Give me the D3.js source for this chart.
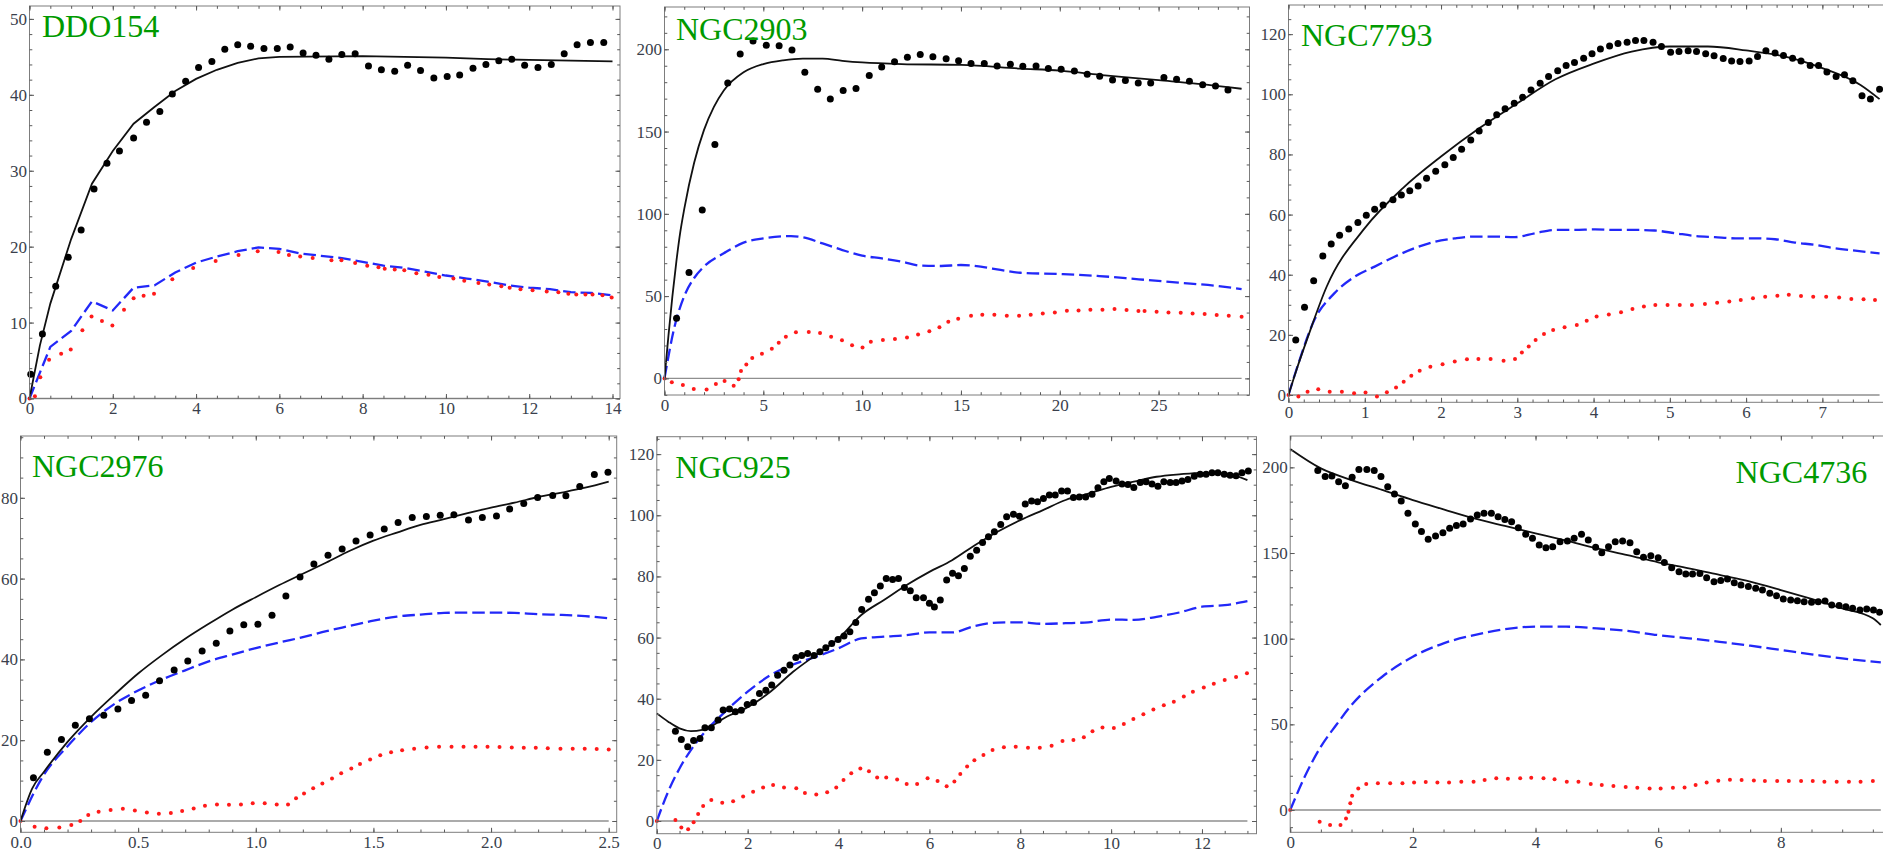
<!DOCTYPE html>
<html>
<head>
<meta charset="utf-8">
<script src="https://cdn.jsdelivr.net/npm/d3@7"></script>
<style>
    body { margin: 0; background: #fff; }
    svg { display: block; font-family: "Liberation Serif", "Times New Roman", serif; }
    .frame { fill: none; stroke: #7d7d7d; stroke-width: 1; }
    .tick line { stroke: #5a5a5a; stroke-width: 1; }
    .tick text { fill: #3a3f4c; font-size: 17px; font-family: "Liberation Serif", serif; }
    .zero { stroke: #8f8f8f; stroke-width: 1.4; }
    .title { fill: #009a00; font-size: 32px; }
</style>
</head>
<body>
<div class="canvas"></div>
<script>
////////// DATA : [radius, velocity] ///////////////////

const titles = ['DDO154', 'NGC2903', 'NGC7793', 'NGC2976', 'NGC925', 'NGC4736'];

const ddo154Obs = [[0.03,3.2],[0.31,8.5],[0.63,14.8],[0.93,18.6],[1.24,22.2],[1.55,27.6],[1.86,31.0],[2.16,32.6],[2.5,34.3],[2.81,36.4],[3.13,37.8],[3.43,40.1],[3.75,41.8],[4.06,43.6],[4.38,44.4],[4.69,46.0],[5.0,46.6],[5.31,46.4],[5.63,46.1],[5.95,46.1],[6.26,46.3],[6.57,45.5],[6.88,45.2],[7.19,44.7],[7.5,45.3],[7.82,45.4],[8.14,43.8],[8.45,43.3],[8.77,43.1],[9.08,43.9],[9.39,43.2],[9.71,42.2],[10.03,42.4],[10.33,42.6],[10.65,43.5],[10.96,44.0],[11.27,44.5],[11.58,44.7],[11.89,43.9],[12.21,43.6],[12.53,44.0],[12.84,45.4],[13.15,46.6],[13.47,46.9],[13.79,46.9]];
const ddo154Fit = [[0,0],[0.25,7],[0.5,12.5],[1,21],[1.5,28.3],[2,32.6],[2.5,36.2],[3,38.4],[3.5,40.5],[4,42.1],[4.5,43.3],[5,44.2],[5.5,44.8],[6,45.0],[8,45.1],[9,45.0],[10,44.9],[11,44.7],[12,44.6],[13,44.5],[14,44.4]];
const ddo154Disk = [[0,0],[0.5,6.8],[1,8.9],[1.5,12.8],[2,11.6],[2.5,14.6],[3,14.9],[3.5,16.6],[4,17.9],[4.5,18.7],[5,19.4],[5.5,19.9],[6,19.7],[6.5,19.1],[7,18.8],[7.5,18.5],[8,18.0],[8.5,17.5],[9,17.2],[9.5,16.7],[10,16.2],[10.5,15.8],[11,15.4],[11.5,14.9],[12,14.6],[12.5,14.4],[13,14.0],[13.5,13.9],[14,13.6]];
const ddo154Gas = [[0,0],[0.13,0.3],[0.26,2.8],[0.47,5.1],[0.76,5.9],[0.99,6.45],[1.27,9.0],[1.49,10.8],[1.74,10.2],[1.99,9.6],[2.27,11.7],[2.5,13.2],[2.74,13.55],[2.99,13.8],[3.43,15.7],[3.93,17.2],[4.47,18.1],[5.02,18.9],[5.48,19.4],[5.98,19.3],[6.23,18.9],[6.5,18.7],[6.8,18.5],[7.25,18.2],[7.49,18.2],[7.82,17.85],[8.11,17.5],[8.38,17.3],[8.53,17.1],[8.77,17.0],[9.0,16.9],[9.29,16.5],[9.58,16.3],[9.84,16.0],[10.18,15.8],[10.44,15.5],[10.78,15.2],[11.04,15.0],[11.33,14.8],[11.53,14.6],[11.79,14.4],[12.08,14.25],[12.42,14.1],[12.7,14.0],[12.94,13.8],[13.13,13.7],[13.35,13.7],[13.52,13.7],[13.76,13.6],[13.98,13.3]];

const ngc2903Obs = [[0.61,36.5],[1.24,64.4],[1.91,102.3],[2.55,142.2],[3.2,179.5],[3.83,197.2],[4.48,205.1],[5.15,202.4],[5.8,202.2],[6.45,199.6],[7.1,186.0],[7.75,175.7],[8.39,169.8],[9.04,174.9],[9.69,176.1],[10.36,184.0],[10.99,189.3],[11.64,192.5],[12.29,195.1],[12.94,196.8],[13.58,195.5],[14.25,194.3],[14.88,193.1],[15.51,191.3],[16.18,191.3],[16.83,189.9],[17.5,190.9],[18.13,189.7],[18.8,189.9],[19.42,188.4],[20.07,187.8],[20.74,186.8],[21.39,184.8],[22.02,183.6],[22.67,181.4],[23.32,181.0],[23.97,179.5],[24.6,179.5],[25.27,182.8],[25.91,181.8],[26.56,180.5],[27.23,178.5],[27.88,177.7],[28.51,175.3]];
const ngc2903Fit = [[0,0],[0.2,26],[0.4,50],[0.6,71],[0.8,89],[1,103],[1.5,131],[2,151],[2.5,165],[3,175],[4,186],[5,191],[6,193.3],[7,194.3],[8,194.3],[9,193],[10,192],[12,191],[15,190.5],[18,188.3],[20,187],[22,184.5],[25,181.2],[27,179],[29.2,176]];
const ngc2903Disk = [[0,0],[0.5,31],[1,50],[1.5,61],[2,68],[3,76],[4,82.5],[5,85.1],[6.4,86.5],[7,85.7],[8,82],[9,78],[10,74.6],[11,72.9],[12,70.9],[13,68.5],[14,68.3],[15,68.9],[16,67.9],[17,65.9],[18,64.2],[20,63.4],[22,62.2],[24,60.2],[26,58.2],[28,56.1],[29.2,54.3]];
const ngc2903Gas = [[0,0],[0.37,-2.4],[0.93,-4],[1.48,-6.5],[2.13,-6.7],[2.6,-3.4],[3.04,-1.6],[3.5,-4.5],[3.75,-0.6],[3.87,4.5],[4.14,8.5],[4.44,12.4],[4.93,15],[5.43,18],[5.78,21.7],[6.14,25.3],[6.65,28],[7.3,28.2],[7.87,27.6],[8.43,25.3],[8.98,23.1],[9.49,20.1],[10.02,18.8],[10.44,22.3],[11.05,23.3],[11.66,23.9],[12.27,24.9],[12.83,26.7],[13.4,28.6],[13.91,31],[14.36,34.4],[14.86,36.3],[15.51,38.1],[16.08,38.7],[16.69,38.7],[17.32,38.1],[17.94,38.1],[18.53,38.7],[19.14,39.5],[19.75,40.1],[20.36,41.1],[20.95,41.3],[21.55,41.7],[22.16,41.7],[22.77,42.1],[23.38,41.5],[23.98,40.9],[24.29,40.9],[24.9,40.5],[25.5,40.1],[26.12,39.9],[26.72,39.5],[27.33,39.1],[27.94,38.5],[28.55,38.1],[29.2,37.5]];

const ngc7793Obs = [[0.095,18.3],[0.21,29.2],[0.33,38.0],[0.45,46.2],[0.56,50.2],[0.67,53.1],[0.79,55.2],[0.91,57.4],[1.02,59.8],[1.13,61.8],[1.24,63.2],[1.37,64.9],[1.48,66.5],[1.59,67.9],[1.7,69.5],[1.81,72.1],[1.93,74.4],[2.05,76.6],[2.16,79.0],[2.27,81.7],[2.39,84.8],[2.5,87.8],[2.62,90.6],[2.73,93.2],[2.84,95.2],[2.96,97.0],[3.07,99.0],[3.18,101.4],[3.3,103.7],[3.41,105.9],[3.53,107.8],[3.64,109.6],[3.75,110.6],[3.87,112.0],[3.98,113.5],[4.09,115.1],[4.21,116.1],[4.32,116.9],[4.44,117.3],[4.55,117.9],[4.66,117.9],[4.78,117.3],[4.89,115.9],[5.01,114.0],[5.12,114.2],[5.24,114.5],[5.35,114.2],[5.47,113.5],[5.58,112.8],[5.7,111.9],[5.81,111.1],[5.92,110.9],[6.04,111.1],[6.15,112.6],[6.26,114.5],[6.38,113.7],[6.49,112.9],[6.61,112.0],[6.72,111.1],[6.84,109.6],[6.95,109.6],[7.06,107.4],[7.18,105.9],[7.29,106.5],[7.4,104.5],[7.52,99.5],[7.63,98.4],[7.75,101.7]];
const ngc7793Fit = [[0,0],[0.1,8],[0.25,19],[0.5,36],[1,55.5],[1.5,68.8],[2,79.3],[2.5,88.7],[3,97],[3.5,105],[4,110.2],[4.5,114.2],[5,115.9],[5.5,115.9],[6,114.6],[6.5,112.6],[7,108.7],[7.5,103.1],[7.75,98.4]];
const ngc7793Disk = [[0,0],[0.13,10.5],[0.34,25],[0.6,33.8],[0.87,39.4],[1.13,42.7],[1.39,46],[1.65,48.8],[1.92,51],[2.18,52.1],[2.44,52.7],[2.7,52.7],[2.97,52.5],[3.23,53.8],[3.49,54.9],[3.75,54.9],[4.02,55.1],[4.28,54.9],[4.54,54.9],[4.8,54.7],[5.07,53.8],[5.33,52.9],[5.59,52.5],[5.86,52.1],[6.12,52.1],[6.38,51.8],[6.64,50.7],[6.91,49.9],[7.17,48.8],[7.43,48.0],[7.75,47.1]];
const ngc7793Gas = [[0,0],[0.13,-0.5],[0.25,1.1],[0.39,1.9],[0.54,1.1],[0.7,1.1],[0.86,0.55],[1.01,0.8],[1.16,-0.5],[1.29,0.9],[1.41,2.5],[1.51,4.4],[1.61,6.4],[1.72,8.1],[1.86,9.4],[2.02,10.2],[2.18,11.1],[2.34,11.9],[2.49,12.0],[2.65,12.0],[2.82,11.4],[2.97,12.0],[3.06,14.1],[3.15,16.1],[3.24,18.3],[3.35,20.3],[3.47,21.6],[3.62,22.5],[3.78,23.3],[3.91,24.7],[4.04,26.1],[4.2,26.8],[4.36,27.5],[4.51,28.6],[4.66,29.4],[4.81,29.9],[4.97,29.9],[5.13,29.9],[5.29,29.9],[5.46,30.3],[5.62,30.7],[5.78,31.1],[5.93,31.6],[6.09,32.2],[6.25,32.7],[6.41,33.0],[6.56,33.3],[6.72,32.9],[6.88,32.7],[7.05,32.7],[7.22,32.4],[7.38,31.9],[7.54,31.8],[7.69,31.6]];

const ngc2976Obs = [[0.055,10.7],[0.114,17.0],[0.174,20.2],[0.233,23.7],[0.293,25.3],[0.354,26.2],[0.414,27.7],[0.472,29.8],[0.532,31.1],[0.591,34.7],[0.653,37.4],[0.711,39.6],[0.772,42.1],[0.832,44.0],[0.89,47.0],[0.949,48.6],[1.009,48.7],[1.069,50.9],[1.128,55.7],[1.188,60.4],[1.247,63.6],[1.307,65.8],[1.367,67.3],[1.426,69.3],[1.486,70.8],[1.546,72.3],[1.605,73.9],[1.665,75.1],[1.725,75.4],[1.784,75.7],[1.842,75.8],[1.904,74.5],[1.963,75.1],[2.023,75.5],[2.079,77.2],[2.139,78.6],[2.198,80.1],[2.262,80.6],[2.318,80.5],[2.377,82.8],[2.439,85.8],[2.497,86.3]];
const ngc2976Fit = [[0,0],[0.05,8.1],[0.1,12.2],[0.2,19.6],[0.3,25.8],[0.4,31.3],[0.5,36.5],[0.6,41],[0.7,45.1],[0.8,48.8],[0.9,52.3],[1.0,55.4],[1.1,58.4],[1.2,61.2],[1.3,64],[1.4,66.9],[1.5,69.4],[1.6,71.4],[1.7,73.3],[1.8,74.7],[1.9,76.2],[2.0,77.6],[2.1,78.8],[2.2,80.2],[2.3,81.3],[2.4,82.5],[2.5,84.0]];
const ngc2976Disk = [[0,0],[0.1,11.5],[0.2,18.5],[0.3,24.5],[0.4,29],[0.5,32.3],[0.6,35],[0.7,37.3],[0.8,39.5],[0.9,41.2],[1.0,42.8],[1.1,44.2],[1.2,45.5],[1.3,47],[1.4,48.3],[1.5,49.6],[1.6,50.6],[1.7,51.1],[1.8,51.5],[1.9,51.6],[2.0,51.6],[2.1,51.5],[2.2,51.2],[2.3,51.0],[2.4,50.7],[2.5,50.2]];
const ngc2976Gas = [[0,0],[0.06,-1.4],[0.11,-1.8],[0.165,-1.6],[0.216,-1.0],[0.254,0],[0.288,1.5],[0.332,2.3],[0.383,2.7],[0.435,3.0],[0.486,2.6],[0.537,2.1],[0.588,1.8],[0.639,2.0],[0.687,2.5],[0.736,3.1],[0.784,3.8],[0.835,4.1],[0.886,4.0],[0.937,4.1],[0.987,4.4],[1.038,4.4],[1.089,4.1],[1.137,4.1],[1.171,5.6],[1.205,6.8],[1.244,8.1],[1.283,9.3],[1.324,10.5],[1.363,11.8],[1.406,13.0],[1.443,14.1],[1.486,15.2],[1.529,16.3],[1.575,17.0],[1.622,17.5],[1.673,17.9],[1.726,18.2],[1.779,18.4],[1.832,18.4],[1.883,18.4],[1.934,18.4],[1.985,18.4],[2.036,18.3],[2.088,18.2],[2.139,18.1],[2.19,18.1],[2.241,18.0],[2.295,17.9],[2.347,17.9],[2.398,17.9],[2.449,17.8],[2.5,17.7]];

const ngc925Obs = [[0.41,29.4],[0.54,26.7],[0.68,24.3],[0.81,26.3],[0.95,27.0],[1.06,30.5],[1.2,30.5],[1.35,33.0],[1.46,36.3],[1.6,36.6],[1.73,35.7],[1.86,36.2],[1.99,38.1],[2.13,38.8],[2.26,41.7],[2.4,42.8],[2.53,44.5],[2.66,47.7],[2.8,49.3],[2.93,51.0],[3.06,53.5],[3.19,54.1],[3.32,54.8],[3.46,54.1],[3.59,55.4],[3.72,56.7],[3.85,58.1],[3.99,59.4],[4.12,60.5],[4.25,61.9],[4.38,64.9],[4.51,69.2],[4.66,72.5],[4.79,74.7],[4.92,76.9],[5.05,79.3],[5.19,79.0],[5.32,79.3],[5.45,76.4],[5.58,75.3],[5.71,73.0],[5.87,73.0],[6.0,71.2],[6.11,70.0],[6.24,72.3],[6.38,78.8],[6.51,81.0],[6.64,80.2],[6.77,82.6],[6.9,86.6],[7.04,88.6],[7.17,91.1],[7.3,93.0],[7.43,94.6],[7.57,97.0],[7.7,99.5],[7.85,100.3],[7.98,99.7],[8.11,103.7],[8.25,104.7],[8.38,104.4],[8.51,105.5],[8.64,106.6],[8.77,106.6],[8.91,107.9],[9.04,107.9],[9.17,105.8],[9.3,106.0],[9.44,106.0],[9.58,106.9],[9.71,109.0],[9.84,111.0],[9.96,112.0],[10.11,111.2],[10.24,110.2],[10.37,110.1],[10.5,109.1],[10.64,110.7],[10.77,111.0],[10.9,110.2],[11.03,109.5],[11.16,111.0],[11.3,110.7],[11.43,110.7],[11.56,111.2],[11.69,111.7],[11.83,112.8],[11.96,113.4],[12.09,113.4],[12.22,113.9],[12.35,113.9],[12.49,113.4],[12.62,113.1],[12.75,112.9],[12.88,113.9],[13.02,114.5]];
const ngc925Fit = [[0,35.2],[0.25,32.5],[0.5,30.3],[0.75,29.4],[1,29.8],[1.25,31.4],[1.5,33.8],[2,37.2],[2.5,42.3],[3,48.8],[3.5,54.3],[4,59.7],[4.5,67.4],[5,72.3],[5.5,77.2],[6,81.5],[6.5,85.3],[7,90.2],[7.5,94.6],[8,98.4],[8.5,101.7],[9,105],[9.5,107.1],[10,109.3],[10.5,111],[11,112.6],[11.5,113.4],[12,113.9],[12.5,113.7],[13,111.5]];
const ngc925Disk = [[0,0],[0.25,9.6],[0.5,17.2],[0.75,23.2],[1,28.1],[1.5,35.7],[2,42.3],[2.5,47.7],[3,51.2],[3.5,53.7],[4,56.5],[4.5,59.7],[5,60.3],[5.5,60.8],[6,61.7],[6.5,61.7],[7,63.8],[7.5,64.9],[8,65.0],[8.5,64.5],[9,64.7],[9.5,65.0],[10,65.9],[10.5,65.8],[11,66.8],[11.5,68.2],[12,70.1],[12.5,70.6],[13,71.9]];
const ngc925Gas = [[0,0],[0.41,0.3],[0.54,-2.1],[0.69,-2.7],[0.81,-0.4],[0.91,2.3],[1.02,4.9],[1.2,6.9],[1.44,6.0],[1.68,6.5],[1.9,8.0],[2.12,9.6],[2.34,11.0],[2.56,11.8],[2.8,11.0],[3.07,10.7],[3.26,9.2],[3.51,8.7],[3.75,9.4],[3.95,11.0],[4.11,13.4],[4.28,15.6],[4.48,17.2],[4.67,16.3],[4.85,14.2],[5.05,14.2],[5.29,13.6],[5.5,12.1],[5.73,12.1],[5.96,14.0],[6.18,13.1],[6.38,11.4],[6.55,12.9],[6.68,15.4],[6.83,17.8],[6.99,19.9],[7.19,21.6],[7.39,23.2],[7.64,24.1],[7.9,24.3],[8.17,24.0],[8.43,24.0],[8.69,24.6],[8.93,26.2],[9.17,26.5],[9.4,27.4],[9.59,29.4],[9.81,30.6],[10.06,30.4],[10.28,31.7],[10.49,33.4],[10.71,34.9],[10.93,36.5],[11.16,37.9],[11.38,39.0],[11.6,40.7],[11.8,42.3],[12.04,43.7],[12.26,44.9],[12.5,46.1],[12.75,47.1],[12.99,48.3]];

const ngc4736Obs = [[0.45,198.1],[0.57,194.6],[0.68,194.9],[0.79,191.6],[0.9,189.3],[1.01,194.2],[1.12,198.8],[1.25,198.8],[1.37,198.1],[1.48,194.6],[1.59,188.7],[1.7,184.4],[1.81,180.4],[1.92,173.2],[2.04,166.9],[2.14,162.5],[2.25,158.0],[2.37,160.0],[2.49,161.9],[2.6,164.4],[2.71,166.0],[2.82,166.9],[2.94,169.8],[3.05,172.2],[3.16,173.2],[3.28,173.2],[3.39,171.2],[3.5,169.6],[3.61,168.3],[3.72,164.8],[3.84,160.9],[3.95,158.6],[4.06,154.7],[4.17,153.1],[4.28,153.7],[4.4,156.6],[4.52,157.0],[4.63,158.6],[4.75,160.9],[4.86,157.6],[4.98,153.3],[5.08,150.2],[5.19,153.7],[5.3,156.6],[5.42,157.0],[5.54,156.0],[5.65,150.8],[5.76,147.5],[5.88,148.4],[6.0,147.3],[6.1,144.4],[6.22,141.4],[6.34,139.1],[6.45,137.7],[6.56,137.7],[6.68,138.1],[6.79,135.6],[6.91,133.3],[7.02,134.0],[7.13,134.8],[7.24,132.7],[7.35,131.3],[7.47,130.4],[7.59,129.4],[7.7,128.4],[7.82,126.5],[7.93,125.1],[8.04,123.2],[8.16,122.6],[8.27,122.2],[8.38,121.6],[8.5,121.2],[8.61,121.6],[8.72,122.0],[8.83,119.6],[8.95,119.3],[9.06,118.7],[9.17,117.7],[9.29,116.7],[9.4,117.3],[9.51,116.7],[9.61,115.4]];
const ngc4736Fit = [[0,210.7],[0.5,199.4],[1,192.6],[1.5,186.8],[2,180.9],[2.5,175.5],[3,170.2],[3.5,165.8],[4,161.5],[4.5,157.2],[5,152.7],[5.5,148.8],[6,144.6],[6.5,141.1],[7,137.2],[7.5,133.3],[8,128.4],[8.5,123.2],[9,117.7],[9.5,111.9],[9.63,108.0]];
const ngc4736Disk = [[0,0],[0.25,20.4],[0.5,37],[0.75,49.6],[1,61.3],[1.5,77.8],[2,89.5],[2.5,97.3],[3,102.1],[3.5,105.6],[4,107.0],[4.5,107.0],[5,106.0],[5.5,104.5],[6,102.1],[6.5,100.2],[7,98.2],[7.5,95.9],[8,93.4],[8.5,90.9],[9,88.5],[9.63,86.2]];
const ngc4736Gas = [[0,0],[0.48,-6.8],[0.65,-8.8],[0.82,-8.8],[0.91,-4.9],[0.95,-1],[0.98,3.9],[1.01,8.4],[1.11,12.6],[1.24,15.2],[1.43,15.6],[1.63,15.6],[1.83,15.6],[2.02,16.1],[2.21,16.3],[2.4,16.1],[2.59,16.1],[2.79,16.5],[2.99,16.5],[3.17,17.5],[3.36,18.5],[3.55,18.3],[3.75,18.5],[3.93,18.9],[4.13,18.5],[4.31,17.9],[4.51,16.5],[4.7,16.5],[4.9,15.2],[5.08,14.6],[5.27,14.0],[5.47,13.4],[5.66,13.0],[5.86,12.6],[6.04,12.6],[6.24,13.0],[6.43,13.2],[6.61,14.6],[6.79,16.0],[6.98,17.1],[7.17,17.7],[7.36,17.5],[7.56,17.3],[7.74,16.9],[7.94,16.9],[8.13,16.9],[8.33,16.9],[8.52,16.9],[8.71,16.5],[8.91,16.5],[9.11,16.5],[9.3,16.5],[9.5,16.9]];

////////// LAYOUT ///////////////////

const width = 1883;
const height = 855;

// box = [left, top, right, bottom] of each frame, ticks = [major, minor]
const panels = [
    {obs: ddo154Obs, fit: ddo154Fit, disk: ddo154Disk, gas: ddo154Gas, xDom: [0, 14.18], yDom: [0, 51.7],
     xTicks: [2, 0.5], yTicks: [10, 2], box: [29.5, 6, 620, 398.5], label: [12.5, 31.3], curve: d3.curveLinear, xFmt: 'd'},
    {obs: ngc2903Obs, fit: ngc2903Fit, disk: ngc2903Disk, gas: ngc2903Gas, xDom: [0, 29.6], yDom: [-10.1, 225.7],
     xTicks: [5, 1], yTicks: [50, 10], box: [664.5, 7, 1249.5, 395], label: [11.5, 33], curve: d3.curveMonotoneX, xFmt: 'd'},
    {obs: ngc7793Obs, fit: ngc7793Fit, disk: ngc7793Disk, gas: ngc7793Gas, xDom: [0, 7.9], yDom: [-2.43, 129.7],
     xTicks: [1, 0.2], yTicks: [20, 5], box: [1288.5, 5, 1891, 402.3], label: [12.5, 41], curve: d3.curveMonotoneX, xFmt: 'd'},
    {obs: ngc2976Obs, fit: ngc2976Fit, disk: ngc2976Disk, gas: ngc2976Gas, xDom: [0, 2.534], yDom: [-2.8, 95.3],
     xTicks: [0.5, 0.1], yTicks: [20, 5], box: [20.5, 436, 616.7, 832.3], label: [11.5, 40.7], curve: d3.curveMonotoneX, xFmt: '.1f'},
    {obs: ngc925Obs, fit: ngc925Fit, disk: ngc925Disk, gas: ngc925Gas, xDom: [0, 13.2], yDom: [-4.15, 125.7],
     xTicks: [2, 0.5], yTicks: [20, 5], box: [656.8, 436.7, 1256.5, 833.7], label: [18.5, 41], curve: d3.curveMonotoneX, xFmt: 'd'},
    {obs: ngc4736Obs, fit: ngc4736Fit, disk: ngc4736Disk, gas: ngc4736Gas, xDom: [0, 9.796], yDom: [-13, 218.3],
     xTicks: [2, 0.5], yTicks: [50, 10], box: [1290.2, 436, 1891, 832.3], label: [445.4, 47.3], curve: d3.curveMonotoneX, xFmt: 'd'},
];

const svg = d3.select('.canvas')
    .append('svg')
    .attr('width', width)
    .attr('height', height);

function stepValues(dom, step) {
    const out = [];
    for (let k = Math.ceil(dom[0] / step - 1e-6); k * step <= dom[1] + 1e-6; k++) {
        out.push(+(k * step).toFixed(6));
    }
    return out;
}

panels.forEach((p, i) => {
    const [left, top, right, bottom] = p.box;
    const x = d3.scaleLinear().domain(p.xDom).range([left, right]);
    const y = d3.scaleLinear().domain(p.yDom).range([bottom, top]);
    const graph = svg.append('g').attr('class', 'panel');

    // zero line
    const xr = d3.extent(p.gas.concat(p.fit), d => d[0]);
    graph.append('line')
        .attr('class', 'zero')
        .attr('x1', x(xr[0])).attr('x2', x(xr[1]))
        .attr('y1', y(0)).attr('y2', y(0));

    const line = d3.line().x(d => x(d[0])).y(d => y(d[1])).curve(p.curve);

    graph.append('path')
        .datum(p.disk)
        .attr('d', line)
        .attr('fill', 'none')
        .attr('stroke', '#2228f8')
        .attr('stroke-width', 2.3)
        .attr('stroke-dasharray', '12.5,5');

    graph.selectAll('circle.gas')
        .data(p.gas)
        .enter()
        .append('circle')
        .attr('class', 'gas')
        .attr('cx', d => x(d[0]))
        .attr('cy', d => y(d[1]))
        .attr('r', 2)
        .attr('fill', '#ff1a1a');

    graph.append('path')
        .datum(p.fit)
        .attr('d', line)
        .attr('fill', 'none')
        .attr('stroke', '#111')
        .attr('stroke-width', 1.8);

    graph.selectAll('circle.obs')
        .data(p.obs)
        .enter()
        .append('circle')
        .attr('class', 'obs')
        .attr('cx', d => x(d[0]))
        .attr('cy', d => y(d[1]))
        .attr('r', 3.5)
        .attr('fill', '#000');

    ////////// FRAME + TICKS ///////////////////
    graph.append('rect')
        .attr('class', 'frame')
        .attr('x', left).attr('y', top)
        .attr('width', right - left).attr('height', bottom - top);

    const xMajor = stepValues(p.xDom, p.xTicks[0]);
    const xMinor = stepValues(p.xDom, p.xTicks[1]);
    const yMajor = stepValues(p.yDom, p.yTicks[0]);
    const yMinor = stepValues(p.yDom, p.yTicks[1]);

    const axes = [
        [d3.axisBottom(x), `translate(0,${bottom})`, xMajor, xMinor, d3.format(p.xFmt), 3.5],
        [d3.axisTop(x), `translate(0,${top})`, xMajor, xMinor, null, 0],
        [d3.axisLeft(y), `translate(${left},0)`, yMajor, yMinor, d3.format('d'), 2.5],
        [d3.axisRight(y), `translate(${right},0)`, yMajor, yMinor, null, 0],
    ];

    axes.forEach(([axis, tr, major, minor, fmt, pad]) => {
        graph.append('g')
            .attr('transform', tr)
            .call(axis.tickValues(minor).tickSize(-2.8).tickFormat(''))
            .call(g => g.select('.domain').remove());
        const ag = graph.append('g')
            .attr('transform', tr)
            .call(axis.tickValues(major).tickSize(-4.5).tickPadding(pad).tickFormat(fmt || ''))
            .call(g => g.select('.domain').remove());
        if (!fmt) ag.selectAll('text').remove();
    });

    graph.append('text')
        .attr('class', 'title')
        .attr('x', left + p.label[0])
        .attr('y', top + p.label[1])
        .text(titles[i]);
});
</script>
</body>
</html>
